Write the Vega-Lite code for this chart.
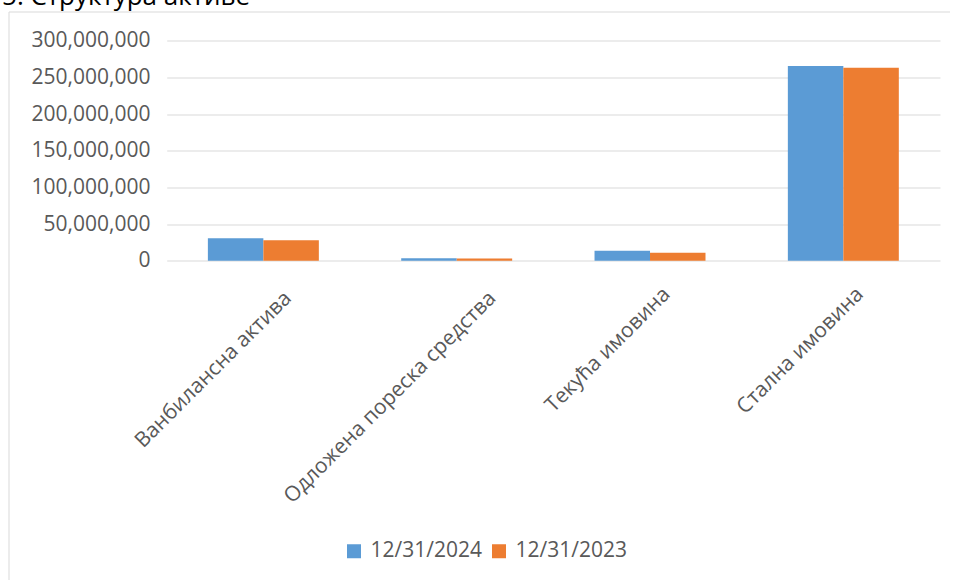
{
  "$schema": "https://vega.github.io/schema/vega-lite/v6.json",
  "autosize": "none",
  "width": 941.5,
  "height": 600,
  "padding": {"left": 8.5, "top": 11.5, "right": 0, "bottom": 0},
  "background": "white",
  "title": {
    "text": "Графикон 5: Структура активе",
    "anchor": "start",
    "frame": "group",
    "align": "right",
    "dx": 241.5,
    "dy": -2,
    "offset": 0,
    "font": "Open Sans",
    "fontSize": 26,
    "fontWeight": "normal",
    "color": "#000000"
  },
  "data": {
    "values": [
      {"category": "Ванбилансна актива", "date": "12/31/2024", "value": 30500000},
      {"category": "Ванбилансна актива", "date": "12/31/2023", "value": 27800000},
      {"category": "Одложена пореска средства", "date": "12/31/2024", "value": 3200000},
      {"category": "Одложена пореска средства", "date": "12/31/2023", "value": 3100000},
      {"category": "Текућа имовина", "date": "12/31/2024", "value": 13600000},
      {"category": "Текућа имовина", "date": "12/31/2023", "value": 10900000},
      {"category": "Стална имовина", "date": "12/31/2024", "value": 265500000},
      {"category": "Стална имовина", "date": "12/31/2023", "value": 263200000}
    ]
  },
  "mark": {"type": "bar"},
  "encoding": {
    "x": {
      "field": "category",
      "type": "nominal",
      "sort": ["Ванбилансна актива", "Одложена пореска средства", "Текућа имовина", "Стална имовина"],
      "scale": {"range": [158.2, 931.5], "paddingInner": 0.426, "paddingOuter": 0.213},
      "axis": {
        "title": null,
        "orient": "bottom",
        "offset": -350.8,
        "domain": false,
        "ticks": false,
        "tickSize": 0,
        "grid": false,
        "labelAngle": -45,
        "labelAlign": "right",
        "labelBaseline": "middle",
        "labelPadding": {
          "condition": [
            {"test": "datum.value == 'Ванбилансна актива'", "value": 34},
            {"test": "datum.value == 'Одложена пореска средства'", "value": 34}
          ],
          "value": 30
        },
        "labelOffset": {
          "condition": [
            {"test": "datum.value == 'Ванбилансна актива'", "value": 25},
            {"test": "datum.value == 'Одложена пореска средства'", "value": 36}
          ],
          "value": 17
        },
        "labelFont": "Open Sans",
        "labelFontSize": 21,
        "labelColor": "#595959",
        "labelLimit": 0,
        "labelOverlap": false
      }
    },
    "xOffset": {"field": "date", "sort": ["12/31/2024", "12/31/2023"]},
    "y": {
      "field": "value",
      "type": "quantitative",
      "scale": {"domain": [0, 300000000], "range": [249.2, 29.2], "nice": false},
      "axis": {
        "title": null,
        "orient": "left",
        "offset": -141.5,
        "domain": false,
        "ticks": false,
        "tickSize": 0,
        "labelPadding": 0,
        "values": [0, 50000000, 100000000, 150000000, 200000000, 250000000, 300000000],
        "format": ",d",
        "grid": true,
        "gridColor": "#d9d9d9",
        "gridWidth": 1,
        "labelFont": "Open Sans",
        "labelFontSize": 21,
        "labelColor": "#595959",
        "labelBaseline": "middle"
      }
    },
    "color": {
      "field": "date",
      "type": "nominal",
      "sort": ["12/31/2024", "12/31/2023"],
      "scale": {"domain": ["12/31/2024", "12/31/2023"], "range": ["#5b9bd5", "#ed7d31"]},
      "legend": {
        "title": null,
        "orient": "none",
        "direction": "horizontal",
        "legendX": 335,
        "legendY": 529,
        "symbolType": "square",
        "symbolSize": 196,
        "symbolStrokeWidth": 0,
        "labelFont": "Open Sans",
        "labelFontSize": 21,
        "labelColor": "#595959",
        "labelOffset": 6,
        "columnPadding": 6,
        "padding": 0
      }
    }
  },
  "config": {
    "view": {"stroke": "#d9d9d9", "strokeWidth": 1}
  }
}
